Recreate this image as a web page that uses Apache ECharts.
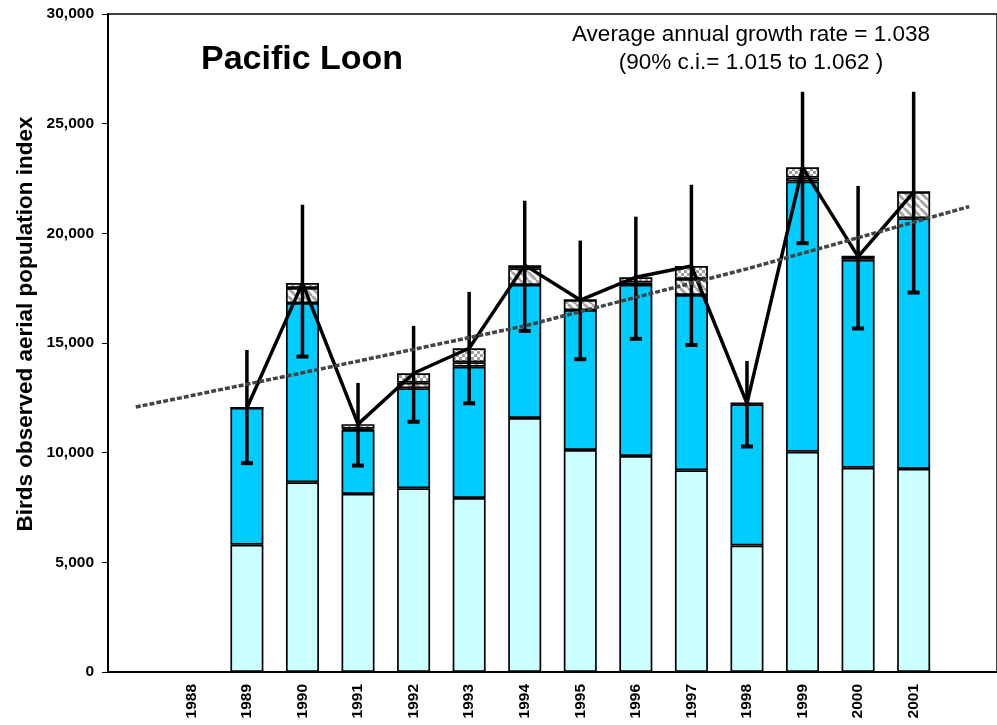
<!DOCTYPE html>
<html>
<head>
<meta charset="utf-8">
<title>Pacific Loon</title>
<script src="https://cdn.jsdelivr.net/npm/echarts@6/dist/echarts.min.js"></script>
<style>
    html, body { margin: 0; padding: 0; background: #fff; }
    #chart { width: 997px; height: 725px; }
</style>
</head>
<body>
<div id="chart"></div>
<script>
    // survey years (1988 has no data)
    const years = ['1988', '1989', '1990', '1991', '1992', '1993', '1994', '1995', '1996', '1997', '1998', '1999', '2000', '2001'];

    // stacked parts of the index
    const lightPart = [null, 5800, 8650, 8120, 8380, 7930, 11580, 10120, 9850, 9200, 5770, 10040, 9310, 9260];
    const bluePart = [null, 6240, 8170, 2910, 4560, 5990, 6070, 6380, 7800, 7990, 6430, 12320, 9480, 11430];
    const hatchPart = [null, 0, 690, 60, 250, 200, 760, 460, 110, 730, 50, 180, 150, 1190];
    const checkPart = [null, 0, 220, 210, 430, 640, 140, 0, 240, 590, 0, 470, 0, 0];

    // total index and 90% interval
    const totals = [null, 12040, 17730, 11300, 13620, 14760, 18550, 16960, 18000, 18510, 12250, 23010, 18940, 21880];
    const ciLow = [null, 9520, 14380, 9410, 11410, 12250, 15550, 14260, 15190, 14910, 10280, 19550, 15660, 17300];
    const ciHigh = [null, 14680, 21300, 13180, 15780, 17330, 21490, 19670, 20760, 22210, 14180, 26450, 22160, 26460];

    // trend line read at a few slots (blank slot, 1990, 1994, 1998, blank slot)
    const trend = [12080, null, null, 13640, null, null, null, 15780, null, null, null, 18380, null, null, null, 21220];

    const yTicks = { min: 0, max: 30000, step: 5000 };

    // one blank slot either side of the years
    const categories = [''].concat(years, ['']);
    const pad = a => [null].concat(a, [null]);

    function makePattern(kind) {
        const c = document.createElement('canvas');
        const ctx = c.getContext('2d');
        if (kind === 'hatch') {
            c.width = 8; c.height = 8;
            ctx.fillStyle = '#fff';
            ctx.fillRect(0, 0, 8, 8);
            ctx.strokeStyle = '#a6a6a6';
            ctx.lineWidth = 3;
            for (let k = -8; k <= 16; k += 8) {
                ctx.beginPath();
                ctx.moveTo(k, 0);
                ctx.lineTo(k + 8, 8);
                ctx.stroke();
            }
        } else {
            c.width = 6; c.height = 6;
            ctx.fillStyle = '#fff';
            ctx.fillRect(0, 0, 6, 6);
            ctx.fillStyle = '#a0a0a0';
            ctx.fillRect(0, 0, 3, 3);
            ctx.fillRect(3, 3, 3, 3);
        }
        return { image: c, repeat: 'repeat' };
    }

    const font = 'Arial, "Liberation Sans", sans-serif';
    const chart = echarts.init(document.getElementById('chart'));

    const edge = { borderColor: '#000', borderWidth: 1.7 };
    const barBase = {
        type: 'bar',
        stack: 'index',
        barWidth: 33,
        z: 2
    };

    const errData = [];
    ciLow.forEach(function (v, i) {
        if (v != null) errData.push([i + 1, v, ciHigh[i]]);
    });

    chart.setOption({
        animation: false,
        textStyle: { fontFamily: font },
        grid: {
            left: 108, top: 14, bottom: 53, right: -5,
            show: true, borderColor: '#000', borderWidth: 1.5
        },
        xAxis: {
            type: 'category',
            data: categories,
            boundaryGap: true,
            axisLine: { lineStyle: { color: '#000', width: 2 } },
            axisTick: { show: false },
            axisLabel: {
                interval: 0, rotate: 90, margin: 12,
                color: '#000', fontWeight: 'bold', fontSize: 15.5, fontFamily: font
            }
        },
        yAxis: {
            type: 'value',
            min: yTicks.min, max: yTicks.max, interval: yTicks.step,
            splitLine: { show: false },
            axisLine: { show: true, lineStyle: { color: '#000', width: 2 } },
            axisTick: { show: true, length: 6, lineStyle: { color: '#000', width: 1 } },
            axisLabel: {
                margin: 14, color: '#000', fontWeight: 'bold', fontSize: 15.5, fontFamily: font,
                formatter: v => v.toLocaleString('en-US')
            }
        },
        graphic: [
            {
                type: 'text', left: 201, top: 43,
                style: { text: 'Pacific Loon', font: 'bold 34px ' + font, fill: '#000' }
            },
            {
                type: 'text', x: 751, y: 49,
                style: {
                    text: 'Average annual growth rate = 1.038\n(90% c.i.= 1.015 to 1.062 )',
                    font: '22.5px ' + font, fill: '#000',
                    textAlign: 'center', textVerticalAlign: 'middle', lineHeight: 28
                }
            },
            {
                type: 'text', x: 26, y: 324, rotation: Math.PI / 2,
                style: {
                    text: 'Birds observed aerial population index',
                    font: 'bold 22.5px ' + font, fill: '#000',
                    textAlign: 'center', textVerticalAlign: 'middle'
                }
            }
        ],
        series: [
            Object.assign({}, barBase, { name: 'light', data: pad(lightPart),
                itemStyle: Object.assign({ color: '#ccffff' }, edge) }),
            Object.assign({}, barBase, { name: 'blue', data: pad(bluePart),
                itemStyle: Object.assign({ color: '#00ccff' }, edge) }),
            Object.assign({}, barBase, { name: 'hatch', data: pad(hatchPart),
                itemStyle: Object.assign({ color: makePattern('hatch') }, edge) }),
            Object.assign({}, barBase, { name: 'check', data: pad(checkPart),
                itemStyle: Object.assign({ color: makePattern('check') }, edge) }),
            {
                name: 'total', type: 'line', data: pad(totals), z: 4,
                symbol: 'none', connectNulls: false,
                lineStyle: { color: '#000', width: 3.5 }
            },
            {
                name: 'ci', type: 'custom', z: 4, data: errData,
                renderItem: function (params, api) {
                    const lo = api.coord([api.value(0), api.value(1)]);
                    const hi = api.coord([api.value(0), api.value(2)]);
                    const st = { stroke: '#000', lineWidth: 3.5 };
                    return {
                        type: 'group',
                        children: [
                            { type: 'line', shape: { x1: lo[0], y1: lo[1], x2: hi[0], y2: hi[1] }, style: st },
                            { type: 'line', shape: { x1: lo[0] - 6, y1: lo[1], x2: lo[0] + 6, y2: lo[1] }, style: { stroke: '#000', lineWidth: 4 } }
                        ]
                    };
                }
            },
            {
                name: 'trend', type: 'line', data: trend, z: 5,
                symbol: 'none', connectNulls: true,
                lineStyle: { color: '#444', width: 3.5, type: [5, 2] }
            }
        ]
    });

    window.onresize = function () {
        chart.resize();
    };
</script>
</body>
</html>
